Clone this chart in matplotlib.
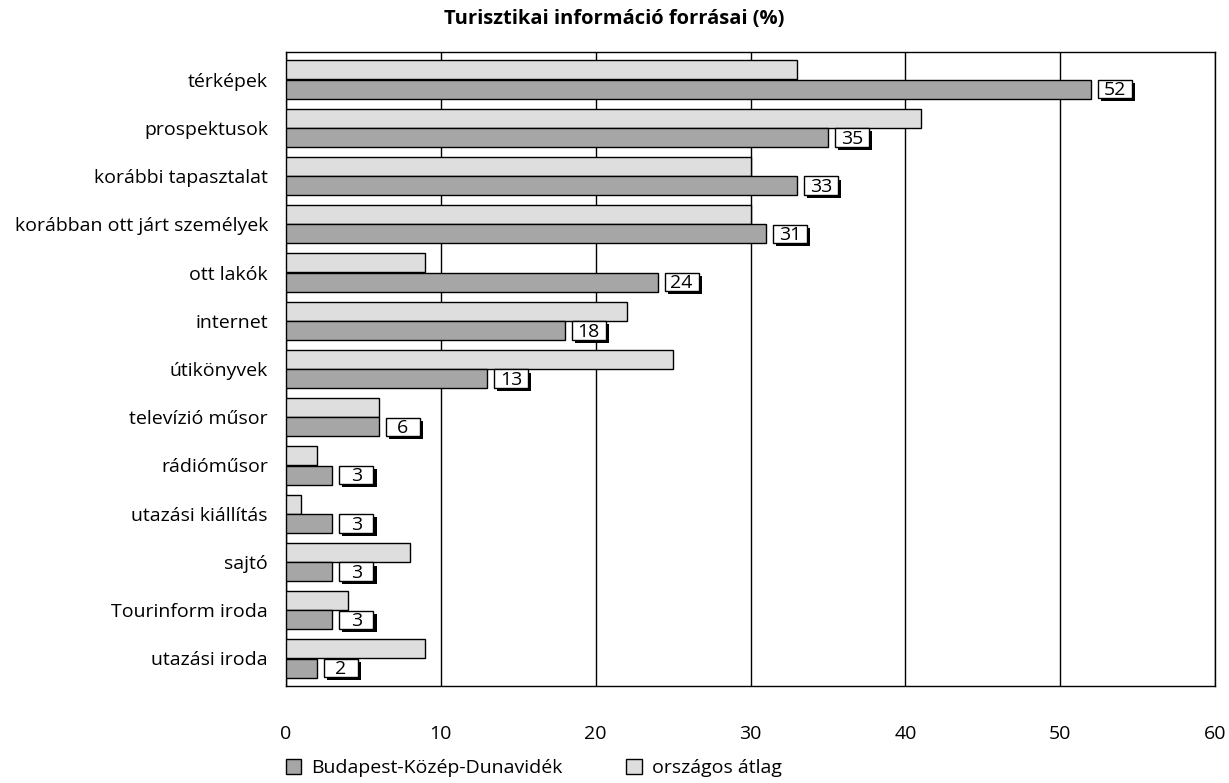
import matplotlib
matplotlib.use("Agg")
import matplotlib.pyplot as plt
import matplotlib.patheffects as pe
from matplotlib.patches import Rectangle, Patch
import numpy as np

plt.rcParams['font.family'] = ['Open Sans', 'DejaVu Sans']

categories = ["térképek", "prospektusok", "korábbi tapasztalat", "korábban ott járt személyek",
              "ott lakók", "internet", "útikönyvek", "televízió műsor", "rádióműsor",
              "utazási kiállítás", "sajtó", "Tourinform iroda", "utazási iroda"]
budapest = [52, 35, 33, 31, 24, 18, 13, 6, 3, 3, 3, 3, 2]
orszagos = [33, 41, 30, 30, 9, 22, 25, 6, 2, 1, 8, 4, 9]
xticks = [0, 10, 20, 30, 40, 50, 60]
series_names = ["Budapest-Közép-Dunavidék", "országos átlag"]
title = "Turisztikai információ forrásai (%)"

dark = "#a6a6a6"
light = "#dedede"
fs = 14

fig = plt.figure(figsize=(12.29, 7.83), dpi=100)
ax = fig.add_axes([286/1229, 1-686/783, (1215-286)/1229, (686-52)/783])

y = np.arange(len(categories))
h = 0.39
ax.barh(y - 0.2, orszagos, height=h, color=light, edgecolor="black", linewidth=1, zorder=3)
ax.barh(y + 0.2, budapest, height=h, color=dark, edgecolor="black", linewidth=1, zorder=3)

bw, bh = 2.2, 0.38
for yi, v in zip(y, budapest):
    x0 = v + 0.45
    r = Rectangle((x0, yi + 0.2 - bh/2), bw, bh, facecolor="white", edgecolor="black",
                  linewidth=1, zorder=4)
    r.set_path_effects([pe.SimplePatchShadow(offset=(2.2, -2.2), shadow_rgbFace="black", alpha=1),
                        pe.Normal()])
    ax.add_patch(r)
    ax.text(x0 + bw/2, yi + 0.225, str(v), ha="center", va="center", fontsize=fs, zorder=5)

ax.set_xlim(0, 60)
ax.set_ylim(len(categories) - 0.43, -0.57)
ax.set_xticks(xticks)
ax.set_xticklabels([str(t) for t in xticks], fontsize=fs)
ax.set_yticks(y)
ax.set_yticklabels(categories, fontsize=fs)
ax.tick_params(axis="x", length=0, pad=28)
ax.tick_params(axis="y", length=0, pad=13)
ax.xaxis.grid(True, color="black", linewidth=1, zorder=0)
ax.set_axisbelow(True)
for s in ax.spines.values():
    s.set_color("black")
    s.set_linewidth(1)

fig.text(0.5, 1-19/783, title, ha="center", va="center", fontsize=14.5, fontweight="bold")

handles = [Patch(facecolor=dark, edgecolor="black"), Patch(facecolor=light, edgecolor="black")]
fig.legend(handles, series_names, loc="center left", bbox_to_anchor=(268/1229, 1-768/783),
           ncol=2, frameon=False, fontsize=fs, handlelength=0.8, handleheight=0.8,
           columnspacing=3.3, handletextpad=0.5)

fig.savefig("out.png", dpi=100)
